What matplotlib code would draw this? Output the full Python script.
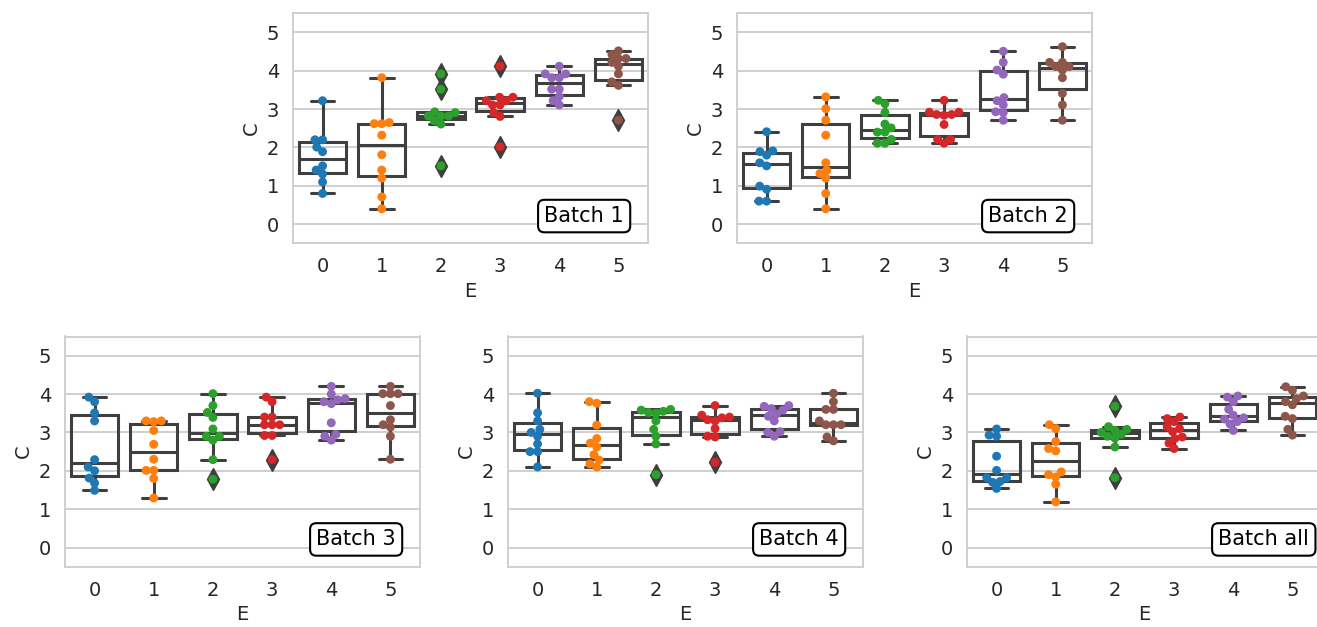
import matplotlib
matplotlib.use("Agg")
import matplotlib.pyplot as plt
import seaborn as sns
import pandas as pd

# ---------------- data ----------------
categories = ["0", "1", "2", "3", "4", "5"]
colors = ["#1f77b4", "#ff7f0e", "#2ca02c", "#d62728", "#9467bd", "#8c564b"]
batch_names = ["Batch 1", "Batch 2", "Batch 3", "Batch 4", "Batch all"]

batch1 = [
    [3.22, 2.20, 2.20, 2.01, 1.89, 1.52, 1.41, 1.31, 1.10, 0.80],
    [3.82, 2.65, 2.62, 2.62, 2.32, 1.81, 1.41, 1.20, 0.71, 0.40],
    [3.92, 3.52, 2.93, 2.91, 2.82, 2.82, 2.82, 2.70, 2.61, 1.52],
    [4.12, 3.31, 3.31, 3.22, 3.22, 3.11, 3.11, 2.91, 2.81, 2.02],
    [4.12, 3.92, 3.92, 3.82, 3.82, 3.52, 3.52, 3.33, 3.22, 3.11],
    [4.52, 4.42, 4.32, 4.32, 4.22, 4.12, 3.92, 3.71, 3.62, 2.71],
]
batch2 = [
    [2.41, 1.91, 1.89, 1.80, 1.60, 1.52, 0.99, 0.91, 0.60, 0.60],
    [3.32, 3.01, 2.71, 2.32, 1.60, 1.40, 1.32, 1.20, 0.80, 0.40],
    [3.23, 3.14, 2.91, 2.61, 2.51, 2.40, 2.40, 2.21, 2.11, 2.11],
    [3.23, 2.92, 2.92, 2.86, 2.86, 2.84, 2.60, 2.21, 2.21, 2.11],
    [4.51, 4.22, 4.02, 3.91, 3.30, 3.22, 3.11, 2.93, 2.91, 2.71],
    [4.63, 4.22, 4.22, 4.11, 4.11, 4.02, 3.82, 3.41, 3.11, 2.71],
]
batch3 = [
    [3.92, 3.80, 3.51, 3.30, 2.29, 2.10, 2.00, 1.81, 1.68, 1.49],
    [3.30, 3.30, 3.28, 3.05, 2.69, 2.30, 2.01, 2.01, 1.80, 1.29],
    [4.01, 3.70, 3.52, 3.39, 3.09, 2.90, 2.90, 2.80, 2.29, 1.78],
    [3.92, 3.80, 3.40, 3.40, 3.20, 3.20, 3.20, 2.92, 2.92, 2.29],
    [4.20, 4.00, 3.88, 3.85, 3.80, 3.75, 3.25, 2.95, 2.90, 2.80],
    [4.20, 4.01, 4.01, 4.01, 3.70, 3.33, 3.20, 3.14, 2.90, 2.30],
]
batch4 = [
    [4.02, 3.51, 3.30, 3.08, 3.00, 2.90, 2.70, 2.50, 2.50, 2.10],
    [3.80, 3.76, 3.19, 2.84, 2.72, 2.62, 2.42, 2.28, 2.18, 2.10],
    [3.60, 3.58, 3.55, 3.52, 3.50, 3.30, 3.08, 2.90, 2.70, 1.90],
    [3.70, 3.45, 3.40, 3.38, 3.33, 3.30, 3.10, 2.90, 2.88, 2.22],
    [3.70, 3.68, 3.62, 3.58, 3.48, 3.42, 3.30, 3.02, 3.00, 2.90],
    [4.02, 3.80, 3.60, 3.60, 3.30, 3.20, 3.20, 3.20, 2.88, 2.78],
]
batch_all = [
    [3.09, 2.93, 2.90, 2.38, 2.01, 1.82, 1.82, 1.72, 1.70, 1.54],
    [3.20, 3.10, 2.76, 2.58, 2.52, 1.97, 1.90, 1.84, 1.65, 1.19],
    [3.68, 3.15, 3.08, 3.05, 3.00, 2.95, 2.90, 2.85, 2.62, 1.82],
    [3.40, 3.36, 3.28, 3.15, 3.10, 3.02, 2.88, 2.84, 2.72, 2.58],
    [3.95, 3.92, 3.80, 3.60, 3.45, 3.38, 3.35, 3.28, 3.22, 3.05],
    [4.19, 4.10, 3.95, 3.88, 3.80, 3.72, 3.42, 3.36, 3.08, 2.93],
]
batches = [batch1, batch2, batch3, batch4, batch_all]
yticks = [0, 1, 2, 3, 4, 5]

# ---------------- style ----------------
sns.set_style("whitegrid")
plt.rcParams["font.family"] = ["DejaVu Sans"]
plt.rcParams.update({
    "axes.edgecolor": "#cccccc",
    "axes.linewidth": 1.3,
    "grid.color": "#cccccc",
    "grid.linewidth": 1.3,
    "xtick.labelsize": 14,
    "ytick.labelsize": 14,
    "axes.labelsize": 14,
    "text.color": "#262626",
    "axes.labelcolor": "#262626",
    "xtick.color": "#262626",
    "ytick.color": "#262626",
})

W, H = 1317, 627
fig = plt.figure(figsize=(W / 100, H / 100), dpi=100)

# axes pixel boxes: (left, right, top, bottom)
boxes_px = [
    (293, 648, 13.3, 243.3),
    (737, 1092, 13.3, 243.3),
    (65, 420, 336.5, 566.7),
    (508, 863, 336.5, 566.7),
    (967, 1322, 336.5, 566.7),
]

gray = "#3f3f3f"
palette = dict(zip(categories, colors))
layout_size = 5.2   # marker size used for the swarm layout
dot_size = 6.4      # marker size drawn

swarm_colls = []
for (l, r, t, b), data, name in zip(boxes_px, batches, batch_names):
    ax = fig.add_axes([l / W, 1 - b / H, (r - l) / W, (b - t) / H])
    ax.set_axisbelow(True)
    ax.boxplot(
        data, positions=range(len(categories)), widths=0.8, patch_artist=True,
        boxprops=dict(facecolor="none", edgecolor=gray, linewidth=2.2),
        whiskerprops=dict(color=gray, linewidth=2.2),
        capprops=dict(color=gray, linewidth=2.2),
        medianprops=dict(color=gray, linewidth=2.2),
        flierprops=dict(marker="d", markerfacecolor=gray, markeredgecolor=gray,
                        markersize=11),
        manage_ticks=False,
    )
    rows = []
    for cat, vals in zip(categories, data):
        for v in vals:
            rows.append((cat, v))
    df = pd.DataFrame(rows, columns=["E", "C"])
    n0 = len(ax.collections)
    sns.swarmplot(data=df, x="E", y="C", hue="E", palette=palette,
                  order=categories, hue_order=categories, size=layout_size,
                  legend=False, ax=ax, zorder=3, linewidth=0)
    swarm_colls.append((ax, list(ax.collections[n0:])))
    ax.set_xlim(-0.5, 5.5)
    ax.set_ylim(-0.5, 5.5)
    ax.set_yticks(yticks)
    ax.set_xticks(range(len(categories)))
    ax.set_xticklabels(categories)
    ax.xaxis.grid(False)
    ax.yaxis.grid(True)
    ax.tick_params(axis="both", length=0, pad=10)
    ax.set_xlabel("E")
    ax.set_ylabel("C")
    ax.text(0.708, 0.075, name, transform=ax.transAxes, ha="left", va="bottom",
            fontsize=15, color="black",
            bbox=dict(boxstyle="round,pad=0.3", facecolor="white",
                      edgecolor="black", linewidth=1.5))

# compute swarm layout, then redraw the dots a bit larger at those positions
fig.canvas.draw()
for ax, colls in swarm_colls:
    for coll in colls:
        offs = coll.get_offsets().copy()
        fcs = coll.get_facecolors().copy()
        coll.remove()
        if len(offs):
            ax.scatter(offs[:, 0], offs[:, 1], s=dot_size ** 2, c=fcs,
                       linewidths=0, zorder=3)

fig.savefig("out.png", dpi=100)
